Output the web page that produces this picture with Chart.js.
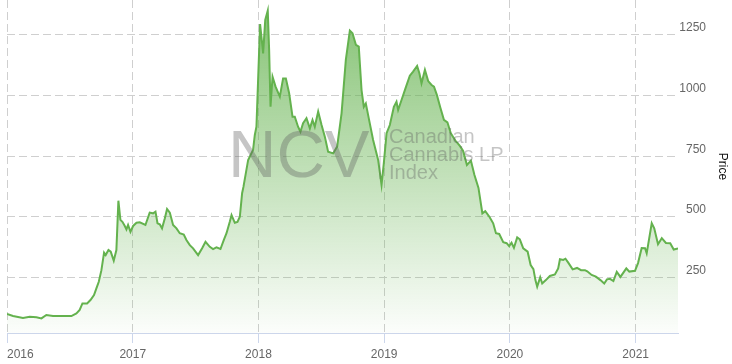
<!DOCTYPE html>
<html>
<head>
<meta charset="utf-8">
<title>NCV Canadian Cannabis LP Index</title>
<script src="https://cdn.jsdelivr.net/npm/chart.js@4/dist/chart.umd.min.js"></script>
<style>
  html, body { margin: 0; padding: 0; background: #fff; }
  #wrap { width: 732px; height: 364px; position: relative; }
</style>
</head>
<body>
<div id="wrap"><canvas id="chart"></canvas></div>
<script>
// time as decimal years
const years = [
  2016.000, 2016.048, 2016.127, 2016.181, 2016.234, 2016.274, 2016.313, 2016.366, 2016.446, 2016.512,
  2016.552, 2016.578, 2016.600, 2016.637, 2016.664, 2016.692, 2016.711, 2016.730, 2016.751, 2016.772,
  2016.785, 2016.807, 2016.825, 2016.849, 2016.870, 2016.886, 2016.902, 2016.918, 2016.937, 2016.950,
  2016.963, 2016.982, 2017.003, 2017.030, 2017.056, 2017.101, 2017.135, 2017.162, 2017.181, 2017.197,
  2017.215, 2017.233, 2017.255, 2017.273, 2017.295, 2017.321, 2017.348, 2017.374, 2017.406, 2017.427,
  2017.454, 2017.480, 2017.520, 2017.552, 2017.579, 2017.613, 2017.639, 2017.666, 2017.698, 2017.724,
  2017.746, 2017.772, 2017.786, 2017.812, 2017.833, 2017.852, 2017.870, 2017.881, 2017.918, 2017.957,
  2017.971, 2017.984, 2018.013, 2018.029, 2018.037, 2018.054, 2018.074, 2018.085, 2018.096, 2018.112,
  2018.136, 2018.170, 2018.196, 2018.218, 2018.244, 2018.271, 2018.289, 2018.315, 2018.334, 2018.355,
  2018.382, 2018.409, 2018.430, 2018.448, 2018.475, 2018.502, 2018.528, 2018.554, 2018.594, 2018.626,
  2018.661, 2018.695, 2018.727, 2018.748, 2018.775, 2018.798, 2018.820, 2018.838, 2018.854, 2018.880,
  2018.912, 2018.952, 2018.979, 2018.997, 2019.019, 2019.045, 2019.077, 2019.098, 2019.111, 2019.138,
  2019.172, 2019.204, 2019.230, 2019.262, 2019.280, 2019.297, 2019.324, 2019.350, 2019.377, 2019.396,
  2019.419, 2019.447, 2019.475, 2019.503, 2019.530, 2019.566, 2019.602, 2019.628, 2019.658, 2019.690,
  2019.718, 2019.750, 2019.781, 2019.804, 2019.838, 2019.867, 2019.889, 2019.915, 2019.947, 2019.974,
  2019.994, 2020.013, 2020.032, 2020.058, 2020.079, 2020.106, 2020.141, 2020.165, 2020.187, 2020.203,
  2020.217, 2020.241, 2020.257, 2020.286, 2020.318, 2020.358, 2020.384, 2020.398, 2020.424, 2020.442,
  2020.464, 2020.499, 2020.534, 2020.566, 2020.597, 2020.615, 2020.650, 2020.684, 2020.720, 2020.750,
  2020.772, 2020.796, 2020.823, 2020.850, 2020.879, 2020.926, 2020.950, 2020.995, 2021.019, 2021.048,
  2021.075, 2021.088, 2021.128, 2021.148, 2021.178, 2021.208, 2021.241, 2021.275, 2021.303, 2021.337
];

const price = [
  100, 92, 84, 89, 87, 82, 96, 92, 92, 92,
  103, 117, 144, 144, 158, 178, 206, 233, 281, 353,
  343, 364, 357, 320, 364, 567, 488, 480, 463, 449,
  467, 439, 463, 476, 478, 467, 518, 515, 522, 474,
  470, 453, 494, 533, 518, 467, 453, 433, 428, 405,
  384, 371, 343, 371, 398, 377, 368, 375, 368, 405,
  433, 480, 508, 476, 480, 501, 598, 625, 735, 776,
  838, 872, 1295, 1216, 1174, 1312, 1350, 1188, 954, 1078,
  1037, 996, 1071, 1071, 1010, 913, 913, 872, 851, 886,
  907, 865, 900, 872, 934, 879, 831, 769, 762, 790,
  927, 1147, 1268, 1257, 1209, 1202, 1023, 954, 968, 900,
  817, 735, 632, 721, 845, 879, 954, 975, 941, 982,
  1034, 1082, 1099, 1122, 1092, 1051, 1106, 1060, 1044, 1037,
  1003, 950, 900, 890, 845, 815, 793, 772, 714, 732,
  673, 620, 515, 524, 500, 474, 433, 430, 396, 392,
  380, 394, 373, 416, 408, 371, 357, 302, 285, 240,
  213, 252, 226, 240, 257, 263, 288, 326, 323, 328,
  312, 284, 290, 281, 281, 276, 261, 254, 240, 226,
  243, 245, 236, 274, 253, 288, 275, 278, 310, 372,
  371, 350, 474, 453, 388, 413, 393, 392, 366, 370
];

const yearTicks = ['2016', '2017', '2018', '2019', '2020', '2021'];
const priceTicks = [250, 500, 750, 1000, 1250];
const axisTitle = 'Price';

const lineColor = '#64b24e';
const gridColor = '#cfcfcf';
const axisColor = '#ccd6eb';
const labelFont = '12px "Liberation Sans", Arial, sans-serif';

// year labels: first one starts at its tick, the others are centred
const yearLabels = {
  id: 'yearLabels',
  afterDraw(chart) {
    const sx = chart.scales.x;
    const c = chart.ctx;
    c.save();
    c.font = labelFont;
    c.fillStyle = '#666';
    c.textBaseline = 'alphabetic';
    yearTicks.forEach((lbl, i) => {
      const px = sx.getPixelForValue(Number(lbl));
      c.textAlign = i === 0 ? 'left' : 'center';
      c.fillText(lbl, px, 358);
    });
    // rotated axis title at the far right
    const sy = chart.scales.y;
    c.translate(722, (sy.top + sy.bottom) / 2);
    c.rotate(Math.PI / 2);
    c.fillStyle = '#111';
    c.textAlign = 'center';
    c.textBaseline = 'middle';
    c.fillText(axisTitle, 0, 0);
    c.restore();
  }
};

// NCV logo watermark
const watermark = {
  id: 'watermark',
  afterDatasetsDraw(chart) {
    const c = chart.ctx;
    c.save();
    c.fillStyle = 'rgba(95,95,95,0.36)';
    c.font = '67px "Liberation Sans", Arial, sans-serif';
    c.textAlign = 'left';
    c.textBaseline = 'alphabetic';
    c.fillText('NCV', 228, 177);
    c.fillRect(379.5, 128, 1, 51);
    c.font = '20px "Liberation Sans", Arial, sans-serif';
    c.fillText('Canadian', 389, 143);
    c.fillText('Cannabis LP', 389, 161);
    c.fillText('Index', 389, 179);
    c.restore();
  }
};

const points = years.map((t, i) => ({x: t, y: price[i]}));

new Chart(document.getElementById('chart'), {
  type: 'line',
  data: {
    datasets: [{
      label: 'Price',
      data: points,
      borderColor: lineColor,
      borderWidth: 2,
      pointRadius: 0,
      tension: 0,
      fill: 'start',
      backgroundColor: (ctx) => {
        const area = ctx.chart.chartArea;
        if (!area) return 'rgba(100,178,78,0.3)';
        const g = ctx.chart.ctx.createLinearGradient(0, area.top, 0, area.bottom);
        g.addColorStop(0, 'rgba(100,178,78,0.8)');
        g.addColorStop(1, 'rgba(100,178,78,0.02)');
        return g;
      }
    }]
  },
  options: {
    responsive: true,
    maintainAspectRatio: false,
    animation: false,
    layout: { padding: { left: 7, right: 26, top: 0, bottom: 0 } },
    plugins: {
      legend: { display: false },
      tooltip: { enabled: false }
    },
    scales: {
      x: {
        type: 'linear',
        min: 2016,
        max: years[years.length - 1],
        afterBuildTicks: (scale) => {
          scale.ticks = yearTicks.map(v => ({value: Number(v)}));
        },
        ticks: { display: false },
        grid: {
          color: gridColor,
          drawTicks: true,
          tickLength: 10,
          tickColor: axisColor,
          tickBorderDash: []
        },
        border: { display: true, color: axisColor, width: 1, dash: [8, 4] },
        afterFit: (scale) => {
          scale.height = 31;
          scale.paddingLeft = 0;
          scale.paddingRight = 0;
        }
      },
      y: {
        type: 'linear',
        position: 'right',
        min: 22,
        max: 1394,
        afterBuildTicks: (scale) => {
          scale.ticks = priceTicks.map(v => ({value: v}));
        },
        ticks: {
          callback: (v) => String(v),
          color: '#666',
          font: { family: '"Liberation Sans", Arial, sans-serif', size: 12 },
          crossAlign: 'far',
          padding: 2,
          labelOffset: -7
        },
        grid: { color: gridColor, drawTicks: false },
        border: { display: false, dash: [8, 4] },
        afterFit: (scale) => {
          scale.width = 28;
          scale.paddingTop = 0;
          scale.paddingBottom = 0;
        }
      }
    }
  },
  plugins: [watermark, yearLabels]
});
</script>
</body>
</html>
